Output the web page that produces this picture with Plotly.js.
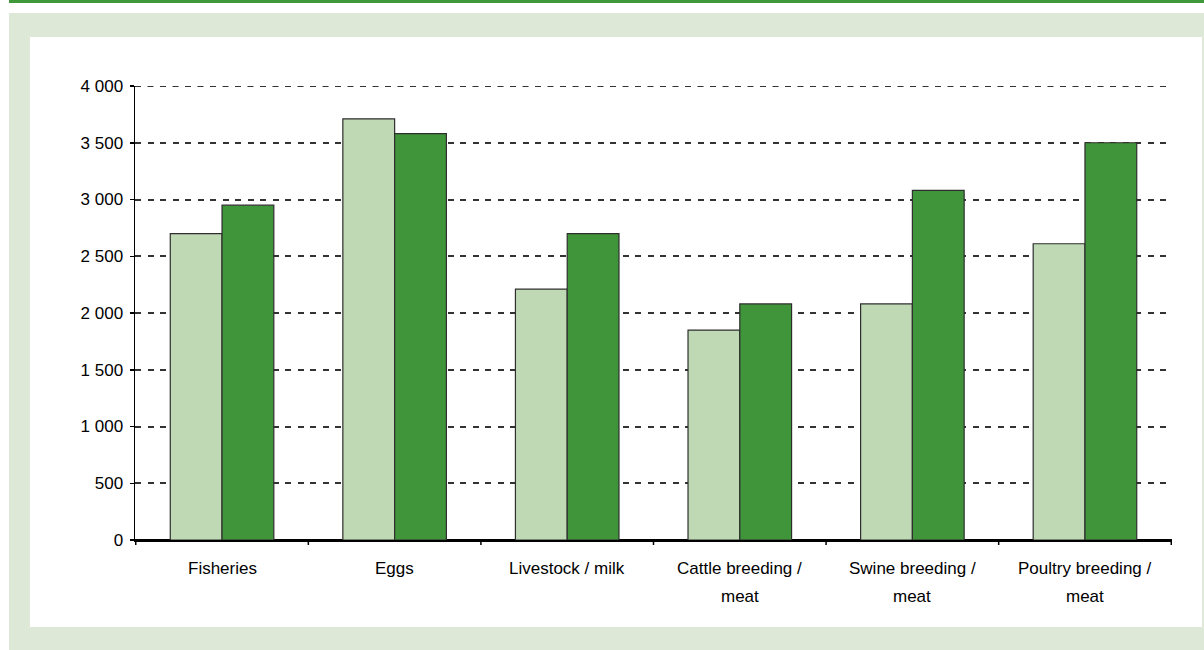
<!DOCTYPE html>
<html><head><meta charset="utf-8">
<script src="https://cdn.plot.ly/plotly-3.0.1.min.js"></script>
<style>
body{margin:0;background:#fff;width:1204px;height:650px;overflow:hidden;position:relative;font-family:Arial,"Liberation Sans",sans-serif}
#topbar{position:absolute;left:9px;top:0;width:1195px;height:3px;background:#3f983a}
#bg{position:absolute;left:9px;top:13px;width:1195px;height:637px;background:#dde9d6}
#chart{position:absolute;left:30px;top:37px;width:1172px;height:590px}
</style></head>
<body>
<div id="topbar"></div><div id="bg"></div><div id="chart"></div>
<script>
const categories = ["Fisheries","Eggs","Livestock / milk","Cattle breeding /<br>meat","Swine breeding /<br>meat","Poultry breeding /<br>meat"];
const seriesA = [2700, 3710, 2210, 1850, 2080, 2610];
const seriesB = [2950, 3580, 2700, 2080, 3080, 3500];
const yTicks = [0,500,1000,1500,2000,2500,3000,3500,4000];

const common = {type:'bar', x:categories, hoverinfo:'none'};
const traces = [
  Object.assign({}, common, {y:seriesA, marker:{color:'#c0d9b5', line:{color:'#2e2e2e', width:1.2}}}),
  Object.assign({}, common, {y:seriesB, marker:{color:'#40953b', line:{color:'#2e2e2e', width:1.2}}})
];

const annotations = [];
categories.forEach(c => {
  c.split('<br>').forEach((line, j) => {
    annotations.push({text:line, x:c, xref:'x', y:0, yref:'paper', yanchor:'middle', xanchor:'center',
      yshift:-28 - 28*j, showarrow:false, font:{size:17, color:'#000'}});
  });
});

const tickShapes = [-0.5,0.5,1.5,2.5,3.5,4.5,5.5].map(v => ({type:'line', xref:'x', yref:'paper', x0:v, x1:v, y0:0, y1:-0.011, line:{color:'#000', width:1.5}}));
const topGrid = {type:'line', layer:'below', xref:'paper', yref:'y', x0:0, x1:1, y0:yTicks[yTicks.length-1], y1:yTicks[yTicks.length-1], line:{color:'#333', width:2, dash:'6px,6.5px'}};

const layout = {
  width:1172, height:590,
  margin:{l:105, r:30, t:49, b:87},
  paper_bgcolor:'#ffffff', plot_bgcolor:'#ffffff',
  showlegend:false, barmode:'group', bargap:0.4, bargroupgap:0,
  separators:'. ',
  font:{family:'Arial, "Liberation Sans", sans-serif', size:17, color:'#000'},
  xaxis:{showline:true, linecolor:'#000', linewidth:1.5, ticks:'', showgrid:false,
         showticklabels:false, automargin:false},
  yaxis:{range:[0,4000], tickvals:yTicks, tickformat:',d', showline:true, linecolor:'#000', linewidth:1.5,
         ticks:'outside', ticklen:4, tickcolor:'#000', tickwidth:1.5, ticklabelstandoff:3,
         showgrid:true, gridcolor:'#333', gridwidth:2, griddash:'6px,6.5px',
         zeroline:true, zerolinecolor:'#000', zerolinewidth:1.5,
         tickfont:{size:17}, automargin:false},
  annotations: annotations,
  shapes: tickShapes.concat([topGrid])
};
Plotly.newPlot('chart', traces, layout, {staticPlot:true});
</script>
</body></html>
